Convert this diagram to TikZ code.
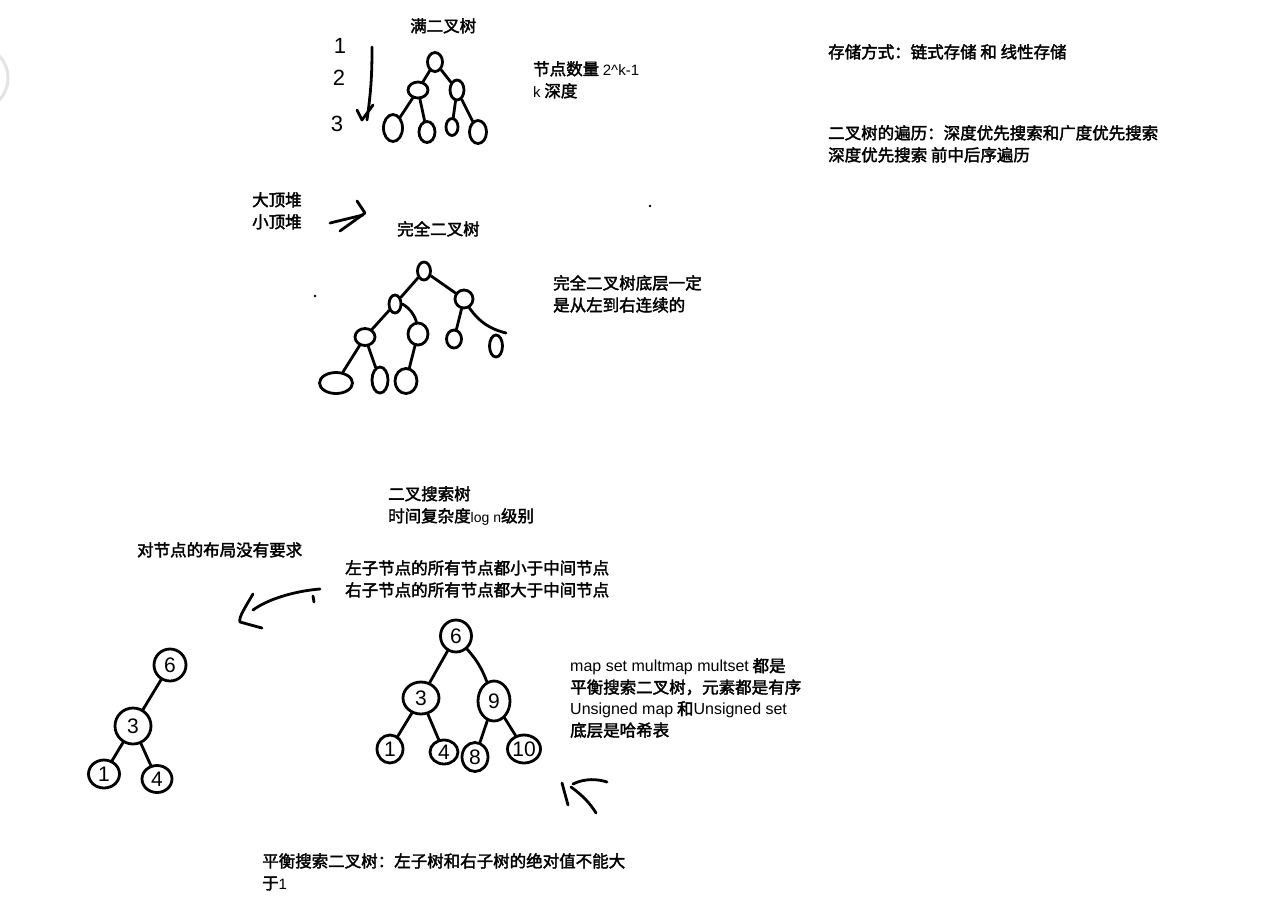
\documentclass[tikz,border=0pt]{standalone}
\usepackage{fontspec}
\usetikzlibrary{shapes.geometric}
\newfontfamily\cjk[FakeBold=2.2]{Noto Sans CJK SC}
\newfontfamily\hand{Liberation Sans}

\begin{document}
\begin{tikzpicture}[
            x=1pt, y=-1pt,
            stroke/.style={line width=2.8pt, line cap=round, line join=round},
            blob/.style={draw, ellipse, line width=2.8pt, inner sep=0pt},
            digit/.style={blob, font=\fontsize{21}{21}\selectfont\hand},
            note/.style={anchor=north west, inner sep=0pt, align=left,
                         font=\fontsize{16.5}{22}\selectfont\cjk},
            depthlabel/.style={inner sep=0pt, font=\fontsize{22}{22}\selectfont\hand}
                           ]
            % 0. Page and the shadow at the left edge
            \fill[white] (0,0) rectangle (1267,906);
            \useasboundingbox (0,0) rectangle (1267,906);
            \draw[gray!22, line width=3pt, fill=white] (-24,78) circle (32);

            % 1. Full binary tree
            \node[note] (full_title) at (410,18) {满二叉树};
            \node[depthlabel] (lv1) at (340,46) {1};
            \node[depthlabel] (lv2) at (339,78) {2};
            \node[depthlabel] (lv3) at (337,124) {3};
            \draw[stroke] (372,47) to[bend left=4] (367,120);
            \draw[stroke] (357,110) -- (362,120) -- (373,105);

            \node[blob, minimum width=15pt, minimum height=19pt] (f0) at (435,62) {};
            \node[blob, minimum width=20pt, minimum height=16pt] (f1) at (418,90) {};
            \node[blob, minimum width=14pt, minimum height=20pt] (f2) at (457,90) {};
            \node[blob, minimum width=19pt, minimum height=27pt] (f3) at (393,128) {};
            \node[blob, minimum width=16pt, minimum height=21pt] (f4) at (427,132) {};
            \node[blob, minimum width=12pt, minimum height=17pt] (f5) at (452,127) {};
            \node[blob, minimum width=17pt, minimum height=23pt] (f6) at (478,132) {};
            \draw[stroke] (f0) -- (f1);
            \draw[stroke] (f0) -- (f2);
            \draw[stroke] (f1) -- (f3);
            \draw[stroke] (f1) -- (f4);
            \draw[stroke] (f2) -- (f5);
            \draw[stroke] (f2) -- (f6);

            \node[note] (full_count) at (533,61) {节点数量 {\hand\fontsize{15}{22}\selectfont 2\textasciicircum k-1}\\{\hand\fontsize{15}{22}\selectfont k} 深度};

            % 2. Storage and traversal notes
            \node[note] (storage) at (828,44) {存储方式：链式存储 和 线性存储};
            \node[note] (traverse) at (828,125) {二叉树的遍历：深度优先搜索和广度优先搜索\\深度优先搜索 前中后序遍历};

            % 3. Heaps and the complete binary tree
            \node[note] (heap) at (252,192) {大顶堆\\小顶堆};
            \draw[stroke] (330,223) -- (363,215);
            \draw[stroke] (357,201) -- (365,213) -- (340,231);
            \node[note] (comp_title) at (397,221) {完全二叉树};
            \fill (650,206) circle (1.3);
            \fill (315,296) circle (1.3);

            \node[blob, minimum width=13pt, minimum height=18pt] (c0) at (424,271) {};
            \node[blob, minimum width=12pt, minimum height=18pt] (c1) at (395,304) {};
            \node[blob, minimum width=18pt, minimum height=18pt] (c2) at (464,299) {};
            \node[blob, minimum width=20pt, minimum height=17pt] (c3) at (365,337) {};
            \node[blob, minimum width=20pt, minimum height=22pt] (c4) at (418,334) {};
            \node[blob, minimum width=15pt, minimum height=18pt] (c5) at (454,339) {};
            \node[blob, minimum width=13pt, minimum height=22pt] (c6) at (496,346) {};
            \node[blob, minimum width=33pt, minimum height=21pt] (c7) at (336,383) {};
            \node[blob, minimum width=16pt, minimum height=26pt] (c8) at (380,380) {};
            \node[blob, minimum width=22pt, minimum height=25pt] (c9) at (406,381) {};
            \coordinate (c_hook) at (506,333);
            \draw[stroke] (c0) -- (c1);
            \draw[stroke] (c0) -- (c2);
            \draw[stroke] (c1) -- (c3);
            \draw[stroke] (c1.east) to[bend left=20] (c4);
            \draw[stroke] (c2) -- (c5);
            \draw[stroke] (c2) to[bend right=20] (c_hook);
            \draw[stroke] (c3) -- (c7);
            \draw[stroke] (c3) -- (c8);
            \draw[stroke] (c4) -- (c9);

            \node[note] (comp_note) at (553,275) {完全二叉树底层一定\\是从左到右连续的};

            % 4. Binary search trees
            \node[note] (bst_title) at (388,486) {二叉搜索树\\时间复杂度{\hand\fontsize{14}{22}\selectfont log n}级别};
            \node[note] (bst_free) at (137,542) {对节点的布局没有要求};
            \node[note] (bst_rule) at (345,560) {左子节点的所有节点都小于中间节点\\右子节点的所有节点都大于中间节点};
            \draw[stroke] (320,589) .. controls (295,591) and (268,599) .. (253,610);
            \draw[stroke] (253,594) .. controls (246,606) and (238,618) .. (240,622) -- (262,628);
            \draw[stroke] (313,596) -- (314,602);

            \node[digit, minimum width=32pt, minimum height=32pt] (a6) at (170,665) {6};
            \node[digit, minimum width=36pt, minimum height=36pt] (a3) at (133,726) {3};
            \node[digit, minimum width=31pt, minimum height=28pt] (a1) at (104,774) {1};
            \node[digit, minimum width=30pt, minimum height=27pt] (a4) at (157,779) {4};
            \draw[stroke] (a6) -- (a3);
            \draw[stroke] (a3) -- (a1);
            \draw[stroke] (a3) -- (a4);

            \node[digit, minimum width=31pt, minimum height=32pt] (b6) at (456,636) {6};
            \node[digit, minimum width=36pt, minimum height=32pt] (b3) at (421,698) {3};
            \node[digit, minimum width=32pt, minimum height=40pt] (b9) at (494,701) {9};
            \node[digit, minimum width=26pt, minimum height=28pt] (b1) at (390,749) {1};
            \node[digit, minimum width=28pt, minimum height=24pt] (b4) at (444,752) {4};
            \node[digit, minimum width=26pt, minimum height=29pt] (b8) at (475,757) {8};
            \node[digit, minimum width=28pt, minimum height=28pt] (b10) at (524,749) {10};
            \draw[stroke] (b6) -- (b3);
            \draw[stroke] (b6) to[bend left=10] (b9);
            \draw[stroke] (b3) -- (b1);
            \draw[stroke] (b3) -- (b4);
            \draw[stroke] (b9) -- (b8);
            \draw[stroke] (b9) -- (b10);

            % 5. Containers and the balanced tree
            \node[note, font=\fontsize{16.5}{21.5}\selectfont\cjk] (containers) at (570,658)
                {{\hand\fontsize{16}{21.5}\selectfont map set multmap multset} 都是\\平衡搜索二叉树，元素都是有序\\{\hand\fontsize{16}{21.5}\selectfont Unsigned map} 和{\hand\fontsize{16}{21.5}\selectfont Unsigned set}\\底层是哈希表};
            \draw[stroke] (573,784) .. controls (585,778) and (598,779) .. (607,782);
            \draw[stroke] (562,783) -- (568,805);
            \draw[stroke] (571,787) .. controls (582,795) and (590,803) .. (596,813);

            \node[note] (balance) at (262,853) {平衡搜索二叉树：左子树和右子树的绝对值不能大\\于{\hand\fontsize{15}{22}\selectfont 1}};

        \end{tikzpicture}
\end{document}
